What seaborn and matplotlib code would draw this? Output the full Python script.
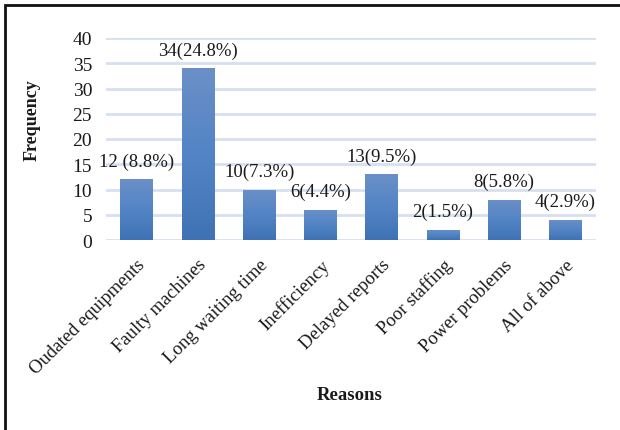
import numpy as np
import pandas as pd
import matplotlib
matplotlib.use("Agg")
import matplotlib.pyplot as plt
from matplotlib.colors import LinearSegmentedColormap
from matplotlib.patches import Rectangle
import seaborn as sns

# Reported reasons and how often each was cited
reasons = ["Oudated equipments", "Faulty machines", "Long waiting time",
           "Inefficiency", "Delayed reports", "Poor staffing",
           "Power problems", "All of above"]
counts = [12, 34, 10, 6, 13, 2, 8, 4]
percents = [8.8, 24.8, 7.3, 4.4, 9.5, 1.5, 5.8, 2.9]
label_gaps = [" ", "", "", "", "", "", "", ""]
y_ticks = [0, 5, 10, 15, 20, 25, 30, 35, 40]

df = pd.DataFrame({"Reasons": reasons, "Frequency": counts})

sns.set_theme(style="white")
plt.rcParams["font.family"] = ["Liberation Serif", "DejaVu Serif"]

W, H = 620, 431
fig = plt.figure(figsize=(W / 100, H / 100), dpi=100)
ax = fig.add_axes([106 / W, 1 - 241 / H, 490 / W, 202 / H])

sns.barplot(data=df, x="Reasons", y="Frequency", color="#4a7bbf",
            width=0.53, ax=ax, zorder=3)

# vertical gradient fill on every bar
grad = LinearSegmentedColormap.from_list(
    "bar_grad", ["#3f72b4", "#5384c6", "#6b90c7"])
gvals = np.linspace(0, 1, 256).reshape(-1, 1)
for patch in ax.patches:
    x0, y0 = patch.get_x(), patch.get_y()
    w, h = patch.get_width(), patch.get_height()
    patch.set_facecolor("none")
    patch.set_edgecolor("none")
    im = ax.imshow(gvals, cmap=grad, origin="lower", aspect="auto",
                   extent=(x0, x0 + w, y0, y0 + h), zorder=3)
    im.set_clip_path(patch)

ax.set_xlim(-0.5, len(reasons) - 0.5)
ax.set_ylim(0, 40)
ax.set_yticks(y_ticks)
ax.yaxis.grid(True, color="#d6e0f0", linewidth=2.0, zorder=0)
ax.set_axisbelow(True)
for s in ax.spines.values():
    s.set_visible(False)

ax.tick_params(axis="y", length=0, pad=10, labelsize=14, colors="#1a1a1a")
ax.tick_params(axis="x", length=0, pad=11.5, labelsize=13.5, colors="#1a1a1a")
ax.set_xticks(range(len(reasons)))
ax.set_xticklabels(reasons, rotation=45, ha="right", va="top",
                   rotation_mode="anchor")

ax.set_xlabel("")
ax.set_ylabel("")
fig.text(350 / W, 1 - 396 / H, "Reasons", fontsize=13.5, fontweight="bold",
         ha="center", va="center", color="#1a1a1a")
fig.text(32 / W, 1 - 120 / H, "Frequency", fontsize=13, fontweight="bold",
         rotation=90, ha="center", va="center", color="#1a1a1a")

# count and share above each bar
for i, (c, p, g) in enumerate(zip(counts, percents, label_gaps)):
    ax.annotate(f"{c}{g}({p}%)", xy=(i, c), xytext=(0, 7),
                textcoords="offset points", ha="center", va="bottom",
                fontsize=13.5, color="#1a1a1a")

# outer frame
fig.add_artist(Rectangle((5 / W, -0.2), 1.2, 1.2 - 6 / H,
                         transform=fig.transFigure, fill=False,
                         edgecolor="#111111", linewidth=2.0))

fig.savefig("out.png", dpi=100, facecolor="white")
